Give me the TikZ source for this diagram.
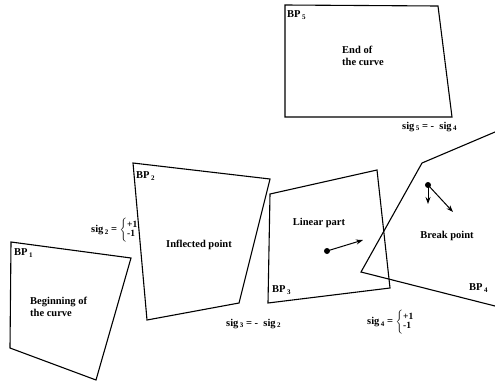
\documentclass[tikz,border=0pt]{standalone}
\usepackage{fontspec}
\setmainfont{Liberation Serif}
\usetikzlibrary{arrows.meta}
\newcommand{\sbs}[1]{\hspace{1.5pt}{\fontsize{7}{8}\selectfont\raisebox{-0.45ex}{#1}}}
\newcommand{\plusminusbrace}{$\bigg\{\mbox{\fontsize{9.5}{10}\selectfont\begin{tabular}{@{}l@{}}+1\\[-1pt]-1\end{tabular}}$}
\begin{document}
\begin{tikzpicture}[x=1pt,y=-1pt,
  poly/.style={line width=1.1pt, line join=miter},
  txt/.style={font=\fontsize{10.5}{11.5}\selectfont\bfseries, inner sep=0pt},
  bp/.style={font=\fontsize{10.5}{11.5}\selectfont\bfseries, inner sep=0pt, anchor=west},
  sig/.style={font=\fontsize{10.5}{11}\selectfont\bfseries, inner sep=0pt, anchor=west},
  vec/.style={line width=1pt, -{Stealth[length=7pt,width=5pt]}},
  dotc/.style={circle, fill, inner sep=0pt, minimum size=6pt}]
\useasboundingbox (0,0) rectangle (495,383);
% polygons
\draw[poly] (11,242) -- (131,258) -- (96,380) -- (10,348) -- cycle;
\draw[poly] (133,163) -- (270,179) -- (239,303) -- (147,320) -- cycle;
\draw[poly] (270,194) -- (377,170) -- (390,288) -- (268,303) -- cycle;
\draw[poly] (495,132) -- (422,163) -- (361,272) -- (495,306);
\draw[poly] (285,5) -- (438,6) -- (452,117) -- (285,117) -- cycle;
% labels
\node[bp] (bp1) at (14,253) {BP\sbs{1}};
\node[bp] (bp2) at (136,176) {BP\sbs{2}};
\node[bp] (bp3) at (272,290) {BP\sbs{3}};
\node[bp] (bp4) at (469,288) {BP\sbs{4}};
\node[bp] (bp5) at (287,15) {BP\sbs{5}};
\node[txt, anchor=west, align=left] (t1) at (30,307) {Beginning of\\the curve};
\node[txt] (t2) at (199,245) {Inflected point};
\node[txt] (t3) at (319,223) {Linear part};
\node[txt] (t4) at (447,236) {Break point};
\node[txt, anchor=west, align=left] (t5) at (342,56) {End of\\the curve};
\node[sig] (s2) at (91,230) {sig\sbs{2}\ = \plusminusbrace};
\node[sig] (s3) at (226,324) {sig\sbs{3}\ = - \ sig\sbs{2}};
\node[sig] (s4) at (367,322) {sig\sbs{4}\ = \plusminusbrace};
\node[sig] (s5) at (402,127) {sig\sbs{5}\ = - \ sig\sbs{4}};
% vectors
\node[dotc] (d3) at (327,251) {};
\coordinate (e3) at (363,240);
\draw[vec] (d3.center) -- (e3);
\node[dotc] (d4) at (428,185) {};
\coordinate (e4a) at (428,204);
\coordinate (e4b) at (453,212);
\draw[vec] (d4.center) -- (e4a);
\draw[vec] (d4.center) -- (e4b);
\end{tikzpicture}
\end{document}
